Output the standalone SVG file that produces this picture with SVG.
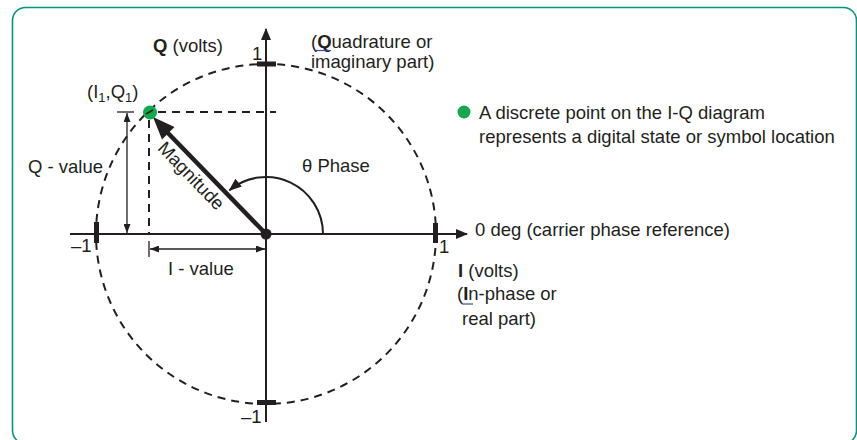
<svg xmlns="http://www.w3.org/2000/svg" width="857" height="440" viewBox="0 0 857 440">
<style>
.t{font-family:"Liberation Sans",Arial,sans-serif;font-size:18.5px;fill:#231f20}
.b{font-weight:bold}
.ax{stroke:#231f20;stroke-width:2;fill:none}
.dim{stroke:#231f20;stroke-width:1.3;fill:none}
.dash{stroke:#231f20;stroke-width:2;stroke-dasharray:8 6;fill:none}
.blk{fill:#231f20}
.grn{fill:#12a84b}
.ul{stroke:#3b4aa8;stroke-width:1.2}
</style>
<defs>
<marker id="axh" viewBox="0 0 12 10" markerWidth="12" markerHeight="10" refX="11" refY="5" orient="auto" markerUnits="userSpaceOnUse"><path d="M0,0L12,5L0,10Z" fill="#231f20"/></marker>
<marker id="dh" viewBox="0 0 9 7" markerWidth="9" markerHeight="7" refX="9" refY="3.5" orient="auto-start-reverse" markerUnits="userSpaceOnUse"><path d="M0,0L9,3.5L0,7Z" fill="#231f20"/></marker>
<marker id="ph" viewBox="0 0 13 10" markerWidth="13" markerHeight="10" refX="12" refY="5" orient="auto" markerUnits="userSpaceOnUse"><path d="M0,0L13,5L0,10Z" fill="#231f20"/></marker>
</defs>
<rect x="12.5" y="7.5" width="844" height="436" rx="13" fill="none" stroke="#00977a" stroke-width="1.6"/>

<g id="connectors">
<circle cx="266" cy="234" r="170" class="dash"/>
<path class="ax" d="M266,422V29" marker-end="url(#axh)"/>
<path class="ax" d="M70,234H467" marker-end="url(#axh)"/>
<rect class="blk" x="257" y="61.5" width="19" height="5"/>
<rect class="blk" x="257" y="400" width="19" height="5"/>
<rect class="blk" x="94" y="222" width="5" height="21"/>
<rect class="blk" x="433" y="223" width="5" height="20"/>
<path class="dash" d="M158,112H276"/>
<path class="dash" d="M149,120V234"/>
<path class="dim" d="M149,241V257"/>
<path class="dim" d="M117,112H134"/>
<path class="dim" d="M127,113V233" marker-start="url(#dh)" marker-end="url(#dh)"/>
<path class="dim" d="M150,249H265" marker-start="url(#dh)" marker-end="url(#dh)"/>
<path class="ax" d="M323,234A57,57 0 0 0 229.4,190.3" marker-end="url(#ph)"/>
<path d="M266,234L166,131" stroke="#231f20" stroke-width="4.5" fill="none"/>
<path class="blk" d="M153,117L174.5,127L162,139.5Z"/>
<circle class="blk" cx="266" cy="234" r="5.5"/>
</g>

<g id="point">
<circle class="grn" cx="150" cy="112.5" r="7"/>
<path d="M146,114L153,110" stroke="#231f20" stroke-width="1.5"/>
<text class="t" x="87" y="98">(I<tspan font-size="13" dy="4">1</tspan><tspan dy="-4">,Q</tspan><tspan font-size="13" dy="4">1</tspan><tspan dy="-4">)</tspan></text>
</g>

<g id="q-axis-label">
<text class="t" x="153" y="52"><tspan class="b">Q</tspan> (volts)</text>
<text class="t" x="311" y="48">(<tspan class="b">Q</tspan>uadrature or</text>
<text class="t" x="311" y="68">imaginary part)</text>
<line class="ul" x1="316" y1="50.5" x2="331" y2="50.5"/>
</g>

<g id="i-axis-label">
<text class="t" x="475" y="236">0 deg (carrier phase reference)</text>
<text class="t" x="458" y="277"><tspan class="b">I</tspan> (volts)</text>
<text class="t" x="457" y="300">(<tspan class="b">I</tspan>n-phase or</text>
<text class="t" x="462" y="325">real part)</text>
<line class="ul" x1="462" y1="304" x2="473" y2="304"/>
</g>

<g id="scale-labels">
<text class="t" x="252" y="60">1</text>
<text class="t" x="439" y="253">1</text>
<text class="t" x="71" y="252">–1</text>
<text class="t" x="241" y="423">–1</text>
</g>

<g id="values">
<text class="t" x="28" y="173">Q - value</text>
<text class="t" x="168" y="275">I - value</text>
<text class="t" x="302" y="172">θ Phase</text>
<text class="t" transform="translate(191,176) rotate(46)" x="0" y="6" text-anchor="middle">Magnitude</text>
</g>

<g id="legend">
<circle class="grn" cx="464" cy="112" r="6.5"/>
<text class="t" x="479" y="119">A discrete point on the I-Q diagram</text>
<text class="t" x="479" y="143">represents a digital state or symbol location</text>
</g>
</svg>
